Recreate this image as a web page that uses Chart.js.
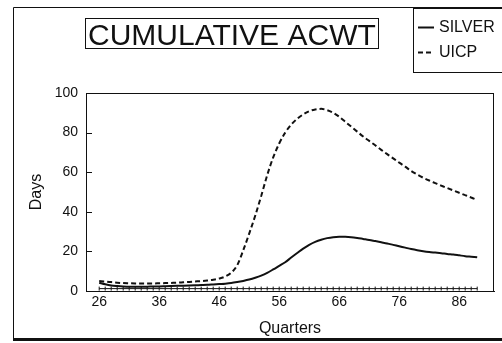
<!DOCTYPE html>
<html>
<head>
<meta charset="utf-8">
<script src="https://cdn.jsdelivr.net/npm/chart.js@4"></script>
<style>
  html, body { margin: 0; padding: 0; background: #fff; }
  #chart { display: block; }
</style>
</head>
<body>
<canvas id="chart" width="502" height="343"></canvas>
<script>
const quarters = [26, 27, 28, 29, 30, 31, 32, 33, 34, 35, 36, 37, 38, 39, 40, 41,
  42, 43, 44, 45, 46, 47, 48, 49, 50, 51, 52, 53, 54, 55, 56, 57,
  58, 59, 60, 61, 62, 63, 64, 65, 66, 67, 68, 69, 70, 71, 72, 73,
  74, 75, 76, 77, 78, 79, 80, 81, 82, 83, 84, 85, 86, 87, 88, 89];

const silver = [4.2, 3.4, 2.8, 2.5, 2.3, 2.2, 2.2, 2.2, 2.2, 2.3, 2.3, 2.4, 2.5, 2.6, 2.7, 2.8,
  2.9, 3.0, 3.1, 3.3, 3.5, 3.7, 4.0, 4.5, 5.1, 5.8, 6.7, 7.8, 9.2, 10.9, 12.7, 14.5,
  16.9, 19.2, 21.4, 23.3, 24.8, 25.9, 26.7, 27.2, 27.4, 27.4, 27.2, 26.8, 26.3, 25.8, 25.2, 24.6,
  24.0, 23.3, 22.6, 21.9, 21.2, 20.6, 20.1, 19.7, 19.4, 19.1, 18.7, 18.4, 18.0, 17.6, 17.3, 17.0];

const uicp = [5.0, 4.8, 4.5, 4.2, 4.0, 3.9, 3.8, 3.8, 3.8, 3.8, 3.9, 4.0, 4.1, 4.2, 4.4, 4.6,
  4.8, 5.0, 5.3, 5.7, 6.3, 7.3, 9.2, 13.0, 20.5, 29.0, 38.0, 48.0, 58.5, 67.5, 74.5, 80.0,
  84.0, 87.0, 89.2, 90.8, 91.7, 92.0, 91.3, 90.0, 88.0, 85.5, 83.0, 80.5, 78.0, 75.8, 73.6, 71.3,
  69.1, 67.0, 64.8, 62.8, 60.6, 58.8, 57.2, 55.8, 54.5, 53.2, 52.0, 50.8, 49.6, 48.4, 47.2, 46.0];

// flat baseline series with a tick at every quarter
const base = [1.2, 1.2, 1.2, 1.2, 1.2, 1.2, 1.2, 1.2, 1.2, 1.2, 1.2, 1.2, 1.2, 1.2, 1.2, 1.2,
  1.2, 1.2, 1.2, 1.2, 1.2, 1.2, 1.2, 1.2, 1.2, 1.2, 1.2, 1.2, 1.2, 1.2, 1.2, 1.2,
  1.2, 1.2, 1.2, 1.2, 1.2, 1.2, 1.2, 1.2, 1.2, 1.2, 1.2, 1.2, 1.2, 1.2, 1.2, 1.2,
  1.2, 1.2, 1.2, 1.2, 1.2, 1.2, 1.2, 1.2, 1.2, 1.2, 1.2, 1.2, 1.2, 1.2, 1.2, 1.2];

const xTicks = [26, 36, 46, 56, 66, 76, 86];
const yTicks = [0, 20, 40, 60, 80, 100];
const titleText = "CUMULATIVE ACWT";

Chart.defaults.font.family = "'Liberation Sans', Arial, sans-serif";
Chart.defaults.color = "#111";

const toPoints = (arr) => arr.map((v, i) => ({ x: quarters[i], y: v }));

// frame, boxed title and boxed legend like the old printout
const decor = {
  id: "decor",
  afterDraw(chart) {
    const c = chart.ctx;
    const a = chart.chartArea;
    c.save();
    c.strokeStyle = "#111";
    c.fillStyle = "#111";
    c.lineWidth = 1;
    c.setLineDash([]);

    // outer page frame
    c.beginPath();
    c.moveTo(13.5, 339);
    c.lineTo(13.5, 7.5);
    c.lineTo(502, 7.5);
    c.stroke();
    c.fillRect(13, 338, 489, 3);

    // plot frame
    c.strokeRect(a.left + 0.5, a.top + 0.5, a.right - a.left - 1, a.bottom - a.top);

    // title box
    c.strokeRect(85.5, 18.5, 293, 30);
    c.font = "30px 'Liberation Sans', Arial, sans-serif";
    c.textBaseline = "alphabetic";
    c.textAlign = "left";
    c.fillText(titleText, 88, 45);

    // legend box
    c.fillStyle = "#fff";
    c.fillRect(413, 8, 95, 65);
    c.strokeRect(413.5, 8.5, 100, 64);
    c.fillStyle = "#111";
    c.font = "16px 'Liberation Sans', Arial, sans-serif";
    c.textBaseline = "middle";
    const items = chart.data.datasets.filter((d) => d.inLegend);
    items.forEach((d, i) => {
      const y = 27 + i * 25;
      c.beginPath();
      c.lineWidth = 2;
      c.setLineDash(d.borderDash || []);
      c.moveTo(418, y + 0.5);
      c.lineTo(434, y + 0.5);
      c.stroke();
      c.setLineDash([]);
      c.fillText(d.label, 439, y + 1);
    });

    // small inward ticks on the y axis
    const ys = chart.scales.y;
    c.lineWidth = 1;
    yTicks.forEach((v) => {
      const py = Math.round(ys.getPixelForValue(v)) + 0.5;
      c.beginPath();
      c.moveTo(a.left, py);
      c.lineTo(a.left + 6, py);
      c.stroke();
    });
    c.restore();
  },
};

new Chart(document.getElementById("chart"), {
  type: "line",
  data: {
    datasets: [
      {
        label: "SILVER",
        inLegend: true,
        data: toPoints(silver),
        borderColor: "#111",
        borderWidth: 2,
        pointRadius: 0,
        tension: 0.4,
        cubicInterpolationMode: "monotone",
      },
      {
        label: "UICP",
        inLegend: true,
        data: toPoints(uicp),
        borderColor: "#111",
        borderWidth: 2,
        borderDash: [5, 3],
        pointRadius: 0,
        tension: 0.4,
        cubicInterpolationMode: "monotone",
      },
      {
        label: "BASE",
        inLegend: false,
        data: toPoints(base),
        borderColor: "#111",
        borderWidth: 1,
        pointStyle: "line",
        rotation: 90,
        pointRadius: 2,
        pointBorderWidth: 1,
        pointBorderColor: "#111",
      },
    ],
  },
  options: {
    responsive: false,
    devicePixelRatio: 1,
    animation: false,
    layout: { padding: { left: 27, top: 93, right: 8, bottom: 0 } },
    plugins: {
      legend: { display: false },
      title: { display: false },
      tooltip: { enabled: false },
    },
    scales: {
      x: {
        type: "linear",
        min: 23.8,
        max: 91.8,
        afterBuildTicks: (s) => { s.ticks = xTicks.map((v) => ({ value: v })); },
        afterFit: (s) => { s.height = 52; },
        grid: { display: false, drawTicks: false },
        border: { display: true, color: "#111", width: 1 },
        ticks: { font: { size: 14 }, color: "#111", padding: 3, maxRotation: 0 },
        title: {
          display: true,
          text: "Quarters",
          font: { size: 16 },
          color: "#111",
          padding: { top: 0, bottom: 5 },
        },
      },
      y: {
        min: 0,
        max: 100,
        afterBuildTicks: (s) => { s.ticks = yTicks.map((v) => ({ value: v })); },
        afterFit: (s) => { s.width = 59; },
        grid: { display: false, drawTicks: false },
        border: { display: true, color: "#111", width: 1 },
        ticks: { font: { size: 14 }, color: "#111", padding: 8 },
        title: {
          display: true,
          text: "Days",
          font: { size: 16 },
          color: "#111",
          padding: { top: 0, bottom: 0 },
        },
      },
    },
  },
  plugins: [decor],
});
</script>
</body>
</html>
